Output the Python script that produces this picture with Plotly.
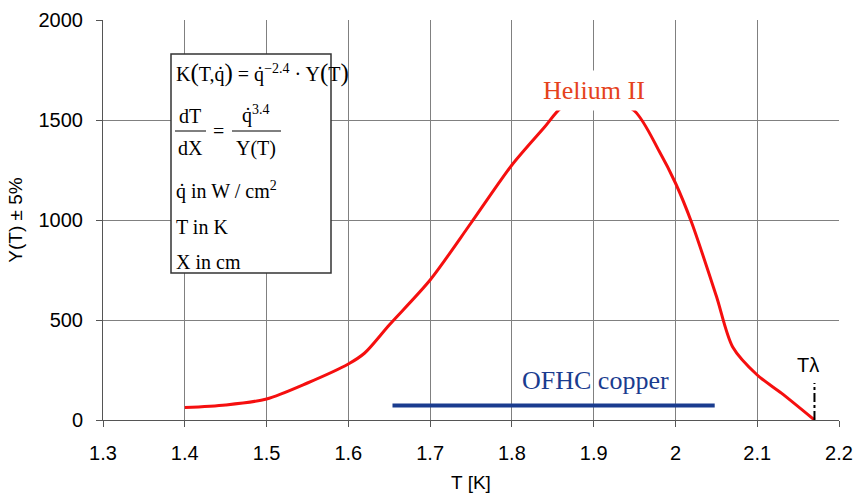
import plotly.graph_objects as go

# Data
T_he = [1.40, 1.45, 1.50, 1.55, 1.60, 1.62, 1.65, 1.70, 1.75, 1.80, 1.84, 1.86, 1.90, 1.95, 1.98, 2.00, 2.02, 2.05, 2.07, 2.10, 2.13, 2.17]
Y_he = [62, 75, 105, 185, 280, 335, 475, 700, 985, 1275, 1465, 1560, 1640, 1545, 1345, 1185, 985, 620, 365, 225, 133, 0]
T_cu = [1.654, 2.048]
Y_cu = [72, 72]
x_ticks = [1.3, 1.4, 1.5, 1.6, 1.7, 1.8, 1.9, 2.0, 2.1, 2.2]
x_tick_text = ["1.3", "1.4", "1.5", "1.6", "1.7", "1.8", "1.9", "2", "2.1", "2.2"]
y_ticks = [0, 500, 1000, 1500, 2000]
T_lambda = 2.17

W, H = 853, 496
L, R, TOP, BOT = 103, 839, 20, 420

def px(x):
    return (x - L) / (R - L)

def py(y):
    return (BOT - y) / (BOT - TOP)

fig = go.Figure()
fig.add_trace(go.Scatter(x=T_he, y=Y_he, mode="lines", line=dict(color="#f50f0f", width=3, shape="spline", smoothing=0.8), showlegend=False))
fig.add_trace(go.Scatter(x=T_cu, y=Y_cu, mode="lines", line=dict(color="#1a3c8f", width=4), showlegend=False))

serif = "Liberation Serif, Times New Roman, serif"
sans = "Liberation Sans, Arial, sans-serif"

ann = []
ann.append(dict(x=1.9, y=1650, xref="x", yref="y", text="Helium II", showarrow=False,
                font=dict(family=serif, size=26, color="#e5421c"), bgcolor="white", borderpad=5))
ann.append(dict(x=1.902, y=200, xref="x", yref="y", text="OFHC copper", showarrow=False,
                font=dict(family=serif, size=26, color="#1a3c8f")))
ann.append(dict(x=T_lambda - 0.008, y=275, xref="x", yref="y", text="Tλ", showarrow=False,
                font=dict(family=sans, size=20, color="black")))

efont = dict(family=serif, size=20, color="black")
def eq(xp, yp, text, anchor="left"):
    ann.append(dict(x=px(xp), y=py(yp), xref="paper", yref="paper", text=text, showarrow=False,
                    xanchor=anchor, yanchor="middle", font=efont))

big = lambda c: '<span style="font-size:25px">' + c + '</span>'
eq(174, 73, "K" + big("(") + "T,q̇" + big(")") + " = q̇<sup>−2.4</sup> · Y" + big("(") + "T" + big(")"))
eq(190, 116, "dT", "center")
eq(190, 148, "dX", "center")
eq(218, 131, "=", "center")
eq(256, 114, "q̇<sup>3.4</sup>", "center")
eq(256, 148, "Y(T)", "center")
eq(174, 190, "q̇ in W / cm<sup>2</sup>")
eq(174, 227, "T in K")
eq(174, 262, "X in cm")

shapes = [
    dict(type="rect", xref="paper", yref="paper", x0=px(171), x1=px(331), y0=py(54), y1=py(273),
         line=dict(color="#333333", width=1.5), fillcolor="white", layer="above"),
    dict(type="line", xref="paper", yref="paper", x0=px(175), x1=px(206), y0=py(131), y1=py(131),
         line=dict(color="black", width=1)),
    dict(type="line", xref="paper", yref="paper", x0=px(232), x1=px(281), y0=py(131), y1=py(131),
         line=dict(color="black", width=1)),
    dict(type="line", xref="x", yref="y", x0=T_lambda, x1=T_lambda, y0=0, y1=185,
         line=dict(color="black", width=2, dash="dashdot")),
]

fig.update_layout(
    width=W, height=H,
    margin=dict(l=L, r=W - R, t=TOP, b=H - BOT),
    paper_bgcolor="white", plot_bgcolor="white",
    annotations=ann, shapes=shapes,
    showlegend=False,
    xaxis=dict(range=[1.3, 2.2], tickvals=x_ticks, ticktext=x_tick_text, automargin=False,
               showgrid=True, gridcolor="#808080", gridwidth=1,
               showline=True, linecolor="#555555", linewidth=1,
               ticks="outside", ticklen=6, tickcolor="#555555", ticklabelstandoff=9,
               tickfont=dict(family=sans, size=20, color="black"),
               title=dict(text="T [K]", font=dict(family=sans, size=19, color="black"), standoff=12),
               zeroline=False),
    yaxis=dict(range=[0, 2000], tickvals=y_ticks, automargin=False,
               showgrid=True, gridcolor="#808080", gridwidth=1,
               showline=True, linecolor="#555555", linewidth=1,
               ticks="outside", ticklen=6, tickcolor="#555555", ticklabelstandoff=9,
               tickfont=dict(family=sans, size=20, color="black"),
               title=dict(text="Y(T) ± 5%", font=dict(family=sans, size=19, color="black"), standoff=10),
               zeroline=False),
)

fig.write_html("out.html")
